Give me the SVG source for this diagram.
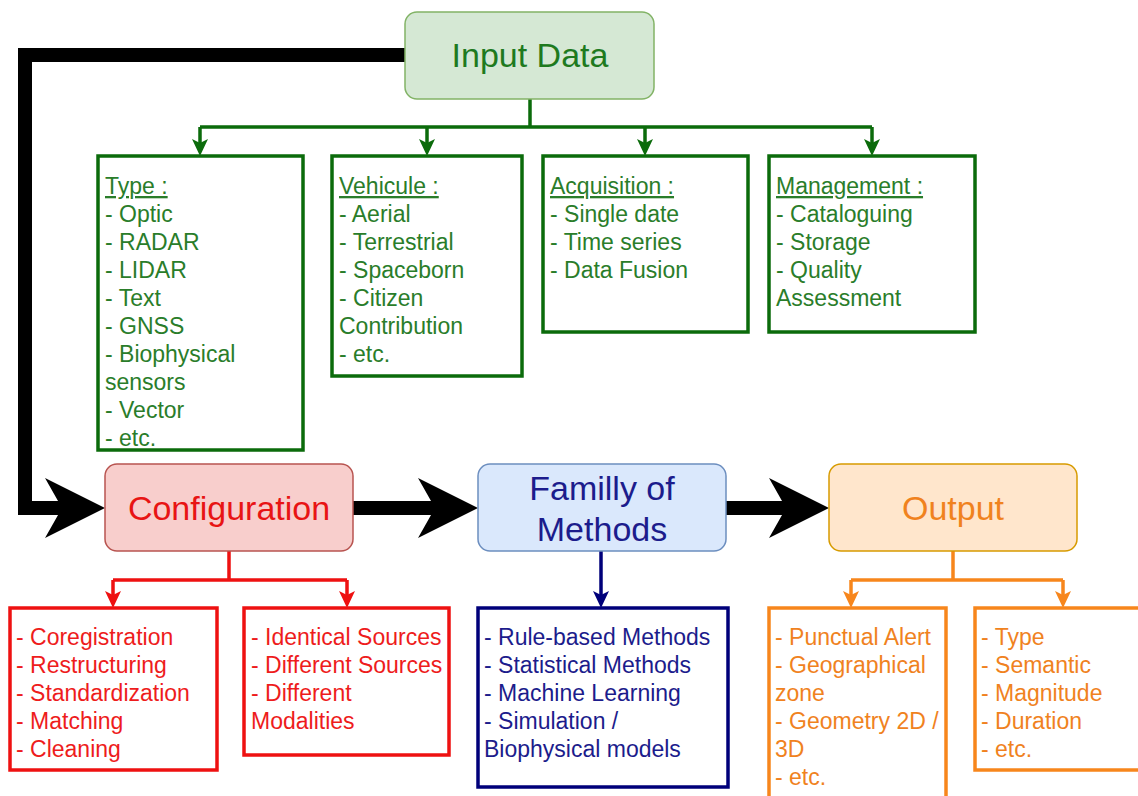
<svg xmlns="http://www.w3.org/2000/svg" width="1138" height="796" viewBox="0 0 1138 796">
<style>
text{font-family:"Liberation Sans",Arial,sans-serif}
.big{font-size:34px;text-anchor:middle}
.sm{font-size:23px}
.g{fill:#2a7d2a}.r{fill:#ee1c1c}.b{fill:#1c1c8c}.o{fill:#f0821e}
.gb{fill:#fff;stroke:#0b6b0b;stroke-width:3.5}
.rb{fill:#fff;stroke:#ee1111;stroke-width:3.5}
.bb{fill:#fff;stroke:#00007a;stroke-width:3.5}
.ob{fill:#fff;stroke:#f7861c;stroke-width:3.5}
.u{text-decoration:underline}
</style>
<rect width="1138" height="796" fill="#fff"/>
<g id="connectors">
  <path d="M405 55 H25 V508 H62" fill="none" stroke="#000" stroke-width="14"/>
  <path d="M105 508 L45 478 L62 508 L45 538 Z" fill="#000"/>
  <path d="M353 508 H436" fill="none" stroke="#000" stroke-width="14"/>
  <path d="M478 508 L418 478 L435 508 L418 538 Z" fill="#000"/>
  <path d="M726 508 H786" fill="none" stroke="#000" stroke-width="14"/>
  <path d="M829 508 L769 478 L786 508 L769 538 Z" fill="#000"/>
  <g fill="none" stroke="#0b6b0b" stroke-width="3.5">
    <path d="M530 99 V127 M200 127 H872 M200 127 V148 M427 127 V148 M645 127 V148 M872 127 V148"/>
  </g>
  <g fill="#0b6b0b">
    <path d="M200 156 l-8 -17 l8 4 l8 -4 Z"/>
    <path d="M427 156 l-8 -17 l8 4 l8 -4 Z"/>
    <path d="M645 156 l-8 -17 l8 4 l8 -4 Z"/>
    <path d="M872 156 l-8 -17 l8 4 l8 -4 Z"/>
  </g>
  <path d="M229 551 V580 M113 580 H347 M113 580 V600 M347 580 V600" fill="none" stroke="#ee1111" stroke-width="3.5"/>
  <g fill="#ee1111">
    <path d="M113 608 l-8 -17 l8 4 l8 -4 Z"/>
    <path d="M347 608 l-8 -17 l8 4 l8 -4 Z"/>
  </g>
  <path d="M601 551 V600" fill="none" stroke="#00007a" stroke-width="3.5"/>
  <path d="M601 608 l-8 -17 l8 4 l8 -4 Z" fill="#00007a"/>
  <path d="M953 551 V580 M851 580 H1063 M851 580 V600 M1063 580 V600" fill="none" stroke="#f7861c" stroke-width="3.5"/>
  <g fill="#f7861c">
    <path d="M851 608 l-8 -17 l8 4 l8 -4 Z"/>
    <path d="M1063 608 l-8 -17 l8 4 l8 -4 Z"/>
  </g>
</g>
<g id="input-data">
  <rect x="405" y="12" width="249" height="87" rx="12" fill="#d5e8d4" stroke="#82b366" stroke-width="1.5"/>
  <text class="big" x="530" y="67" fill="#1e7a1e">Input Data</text>
</g>
<g id="type">
  <rect class="gb" x="98" y="156" width="205" height="294"/>
  <text class="sm g" x="105" y="194"><tspan class="u">Type :</tspan><tspan x="105" dy="28">- Optic</tspan><tspan x="105" dy="28">- RADAR</tspan><tspan x="105" dy="28">- LIDAR</tspan><tspan x="105" dy="28">- Text</tspan><tspan x="105" dy="28">- GNSS</tspan><tspan x="105" dy="28">- Biophysical</tspan><tspan x="105" dy="28">sensors</tspan><tspan x="105" dy="28">- Vector</tspan><tspan x="105" dy="28">- etc.</tspan></text>
</g>
<g id="vehicule">
  <rect class="gb" x="332" y="156" width="190" height="220"/>
  <text class="sm g" x="339" y="194"><tspan class="u">Vehicule :</tspan><tspan x="339" dy="28">- Aerial</tspan><tspan x="339" dy="28">- Terrestrial</tspan><tspan x="339" dy="28">- Spaceborn</tspan><tspan x="339" dy="28">- Citizen</tspan><tspan x="339" dy="28">Contribution</tspan><tspan x="339" dy="28">- etc.</tspan></text>
</g>
<g id="acquisition">
  <rect class="gb" x="543" y="156" width="205" height="176"/>
  <text class="sm g" x="550" y="194"><tspan class="u">Acquisition :</tspan><tspan x="550" dy="28">- Single date</tspan><tspan x="550" dy="28">- Time series</tspan><tspan x="550" dy="28">- Data Fusion</tspan></text>
</g>
<g id="management">
  <rect class="gb" x="769" y="156" width="206" height="176"/>
  <text class="sm g" x="776" y="194"><tspan class="u">Management :</tspan><tspan x="776" dy="28">- Cataloguing</tspan><tspan x="776" dy="28">- Storage</tspan><tspan x="776" dy="28">- Quality</tspan><tspan x="776" dy="28">Assessment</tspan></text>
</g>
<g id="configuration">
  <rect x="105" y="464" width="248" height="87" rx="12" fill="#f8cecc" stroke="#b85450" stroke-width="1.5"/>
  <text class="big" x="229" y="520" fill="#e81414">Configuration</text>
</g>
<g id="family">
  <rect x="478" y="464" width="248" height="87" rx="12" fill="#dae8fc" stroke="#6c8ebf" stroke-width="1.5"/>
  <text class="big" x="602" y="500" fill="#1c1c8c">Familly of</text>
  <text class="big" x="602" y="541" fill="#1c1c8c">Methods</text>
</g>
<g id="output">
  <rect x="829" y="464" width="248" height="87" rx="12" fill="#ffe6cc" stroke="#d79b00" stroke-width="1.5"/>
  <text class="big" x="953" y="520" fill="#f0821e">Output</text>
</g>
<g id="config-steps">
  <rect class="rb" x="10" y="608" width="207" height="162"/>
  <text class="sm r" x="16" y="645"><tspan>- Coregistration</tspan><tspan x="16" dy="28">- Restructuring</tspan><tspan x="16" dy="28">- Standardization</tspan><tspan x="16" dy="28">- Matching</tspan><tspan x="16" dy="28">- Cleaning</tspan></text>
</g>
<g id="config-sources">
  <rect class="rb" x="244" y="608" width="205" height="147"/>
  <text class="sm r" x="251" y="645"><tspan>- Identical Sources</tspan><tspan x="251" dy="28">- Different Sources</tspan><tspan x="251" dy="28">- Different</tspan><tspan x="251" dy="28">Modalities</tspan></text>
</g>
<g id="methods-list">
  <rect class="bb" x="478" y="608" width="250" height="179"/>
  <text class="sm b" x="484" y="645"><tspan>- Rule-based Methods</tspan><tspan x="484" dy="28">- Statistical Methods</tspan><tspan x="484" dy="28">- Machine Learning</tspan><tspan x="484" dy="28">- Simulation /</tspan><tspan x="484" dy="28">Biophysical models</tspan></text>
</g>
<g id="output-form">
  <rect class="ob" x="769" y="608" width="177" height="200"/>
  <text class="sm o" x="775" y="645"><tspan>- Punctual Alert</tspan><tspan x="775" dy="28">- Geographical</tspan><tspan x="775" dy="28">zone</tspan><tspan x="775" dy="28">- Geometry 2D /</tspan><tspan x="775" dy="28">3D</tspan><tspan x="775" dy="28">- etc.</tspan></text>
</g>
<g id="output-attributes">
  <rect class="ob" x="975" y="608" width="180" height="162"/>
  <text class="sm o" x="981" y="645"><tspan>- Type</tspan><tspan x="981" dy="28">- Semantic</tspan><tspan x="981" dy="28">- Magnitude</tspan><tspan x="981" dy="28">- Duration</tspan><tspan x="981" dy="28">- etc.</tspan></text>
</g>
</svg>
